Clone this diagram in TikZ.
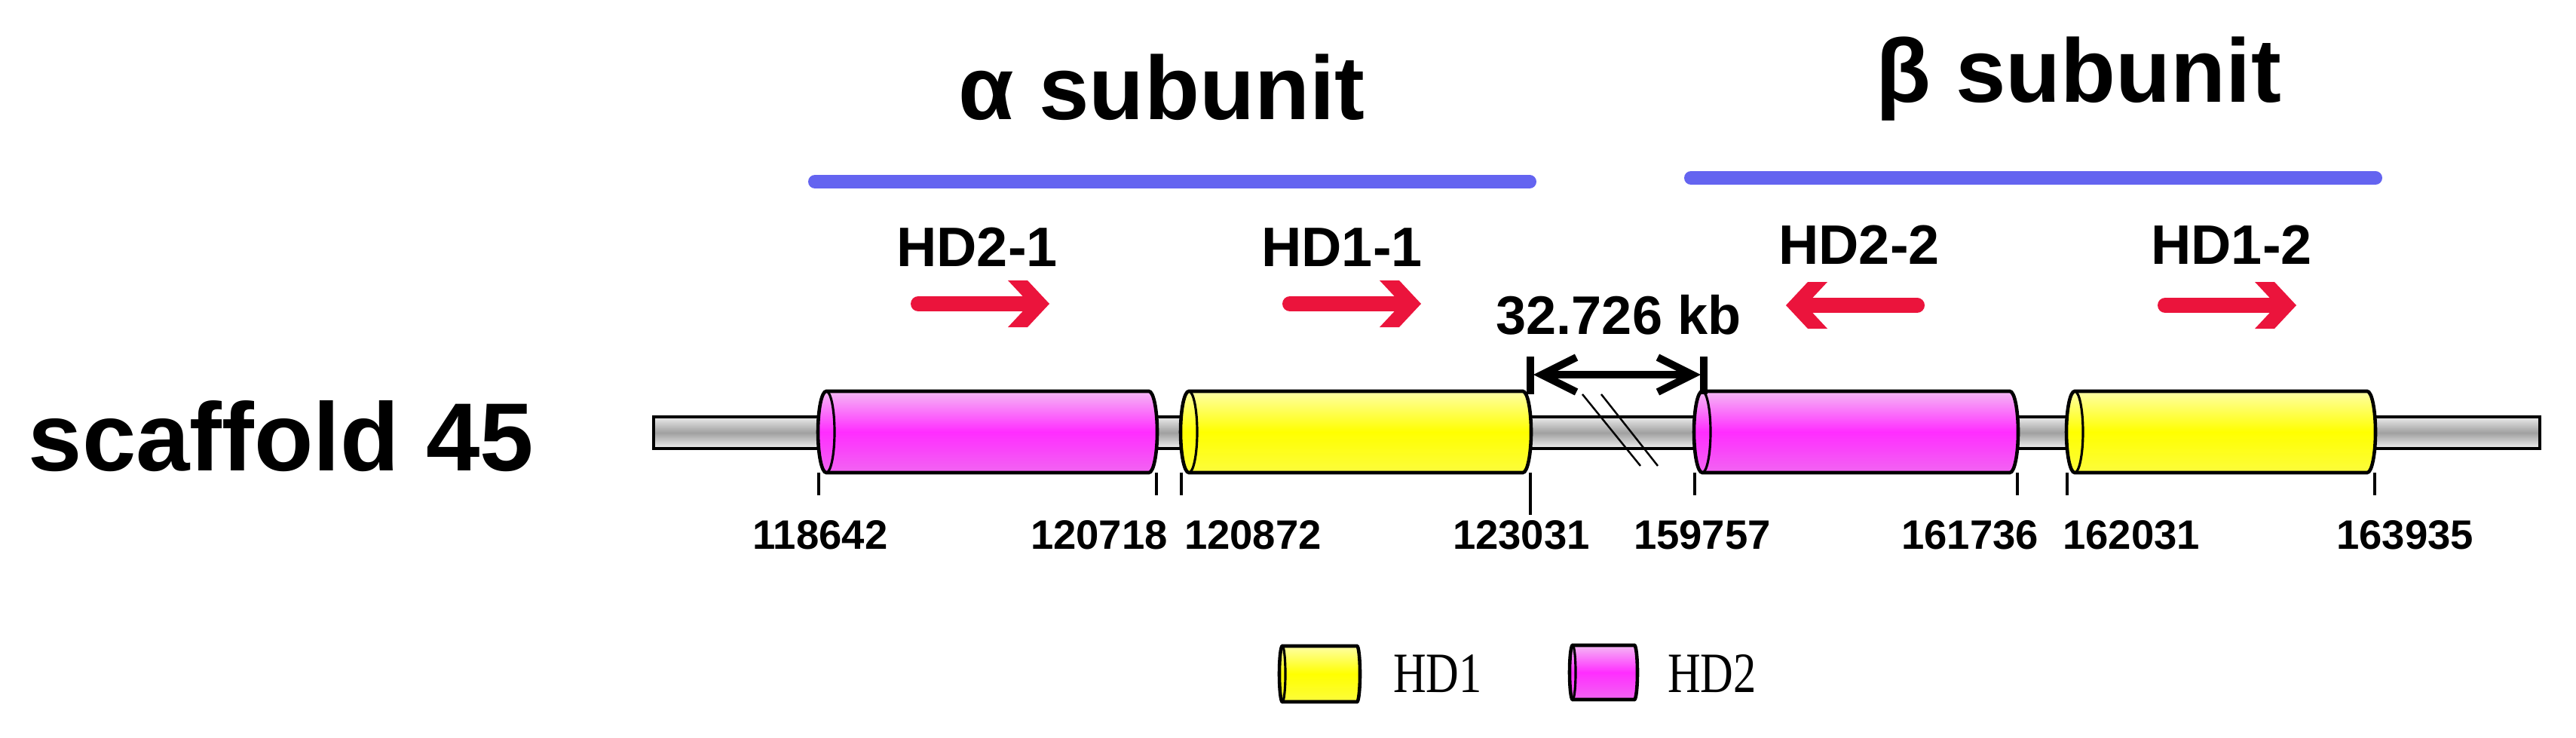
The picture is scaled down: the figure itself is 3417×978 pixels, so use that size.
\documentclass[tikz,border=0pt]{standalone}
\usepackage{fontspec}
\setmainfont{Liberation Sans}
\newfontfamily\legfont{Liberation Serif}
\usetikzlibrary{arrows.meta}

\definecolor{barblue}{RGB}{100,100,240}
\definecolor{redarr}{RGB}{235,20,60}
\definecolor{pinkL}{RGB}{245,185,245}
\definecolor{pinkM}{RGB}{255,45,255}
\definecolor{pinkB}{RGB}{242,100,242}
\definecolor{yelL}{RGB}{255,255,165}
\definecolor{yelM}{RGB}{255,255,0}
\definecolor{yelB}{RGB}{252,252,60}
\definecolor{grayL}{RGB}{235,235,235}
\definecolor{grayM}{RGB}{160,160,160}
\definecolor{grayB}{RGB}{240,240,240}

% #1 left x, #2 right x, #3 centre y, #4 half height (px), #5 colour prefix, #6 end x-radius (px)
\newcommand{\gcyl}[6]{%
  \draw[line width=1.3pt, top color=#5L, bottom color=#5B, middle color=#5M]
    (#1,#3-#4) -- (#2,#3-#4)
    arc[start angle=90, end angle=-90, x radius={#6*0.01cm}, y radius={#4*0.01cm}]
    -- (#1,#3+#4)
    arc[start angle=270, end angle=90, x radius={#6*0.01cm}, y radius={#4*0.01cm}]
    -- cycle;
  \draw[line width=0.9pt] (#1,#3) ellipse [x radius={#6*0.01cm}, y radius={#4*0.01cm}];
}

\tikzset{
  pics/rarrow/.style={code={
    \draw[redarr, line width=0.2cm, line cap=round] (-82,0) -- (68,0);
    \fill[redarr] (92,0) -- (63,-31) -- (37,-31) -- (66,0) -- (37,31) -- (63,31) -- cycle;
  }},
  hdlab/.style={font=\bfseries\fontsize{21}{24}\selectfont, inner sep=0pt, anchor=base},
  sublab/.style={font=\bfseries\fontsize{34}{38}\selectfont, inner sep=0pt, anchor=base},
  numlab/.style={font=\bfseries\fontsize{15.5}{18}\selectfont, inner sep=0pt, anchor=base},
  leglab/.style={font=\legfont\fontsize{21.5}{24}\selectfont, inner sep=0pt, anchor=base},
  ticks/.style={line width=1.1pt},
  blueline/.style={barblue, line width=0.18cm, line cap=round},
  breakmark/.style={line width=0.7pt},
  gapbar/.style={line width=2.8pt},
}

\begin{document}
\begin{tikzpicture}[x=0.01cm, y=-0.01cm]
\useasboundingbox (0,0) rectangle (3417,978);

% title labels
\node[sublab] (alpha) at (1541,158) {α subunit};
\node[sublab] (beta) at (2757,135) {β subunit};
\draw[blueline] (1081,241) -- (2029,241);
\draw[blueline] (2243,236) -- (3151,236);

% gene labels and orientation arrows
\node[hdlab] (hd21) at (1296,353) {HD2-1};
\node[hdlab] (hd11) at (1780,353) {HD1-1};
\node[hdlab] (hd22) at (2466,350) {HD2-2};
\node[hdlab] (hd12) at (2960,350) {HD1-2};
\pic at (1300,403) {rarrow};
\pic at (1793,403) {rarrow};
\pic[xscale=-1] at (2461,405) {rarrow};
\pic at (2954,405) {rarrow};

% scaffold label
\node[font=\bfseries\fontsize{36.5}{40}\selectfont, inner sep=0pt, anchor=base] (scaf) at (373,624) {scaffold 45};

% backbone
\draw[line width=1.2pt, top color=grayL, bottom color=grayB, middle color=grayM] (867,553) rectangle (3369,595);

% break marks
\draw[breakmark] (2099,523) -- (2176,618);
\draw[breakmark] (2124,523) -- (2199,618);

% genes
\gcyl{1096}{1524}{573}{54}{pink}{11}
\gcyl{1577}{2020}{573}{54}{yel}{11}
\gcyl{2258}{2666}{573}{54}{pink}{11}
\gcyl{2752}{3140}{573}{54}{yel}{11}

% distance marker
\node[font=\bfseries\fontsize{20.5}{24}\selectfont, inner sep=0pt, anchor=base] (dist) at (2147,443) {32.726 kb};
\coordinate (gL) at (2034,497);
\coordinate (gR) at (2256,497);
\draw[gapbar] (2030,473) -- (2030,523);
\draw[gapbar] (2260,473) -- (2260,523);
\draw[gapbar, {Straight Barb[length=0.46cm,width=0.46cm]}-{Straight Barb[length=0.46cm,width=0.46cm]}] (gL) -- (gR);

% ticks
\foreach \tx in {1086,1534,1567,2248,2676,2742,3150}{
  \draw[ticks] (\tx,627) -- (\tx,657);
}
\draw[ticks] (2030,627) -- (2030,683);

% coordinates
\node[numlab] (c1) at (1088,728) {118642};
\node[numlab] (c2) at (1458,728) {120718};
\node[numlab] (c3) at (1662,728) {120872};
\node[numlab] (c4) at (2018,728) {123031};
\node[numlab] (c5) at (2258,728) {159757};
\node[numlab] (c6) at (2613,728) {161736};
\node[numlab] (c7) at (2827,728) {162031};
\node[numlab] (c8) at (3190,728) {163935};

% legend
\gcyl{1701}{1800}{894}{37}{yel}{4}
\node[leglab] (l1) at (1907,918) {\scalebox{0.8}[1]{HD1}};
\gcyl{2086}{2168}{892}{36}{pink}{4}
\node[leglab] (l2) at (2271,918) {\scalebox{0.8}[1]{HD2}};
\end{tikzpicture}
\end{document}
